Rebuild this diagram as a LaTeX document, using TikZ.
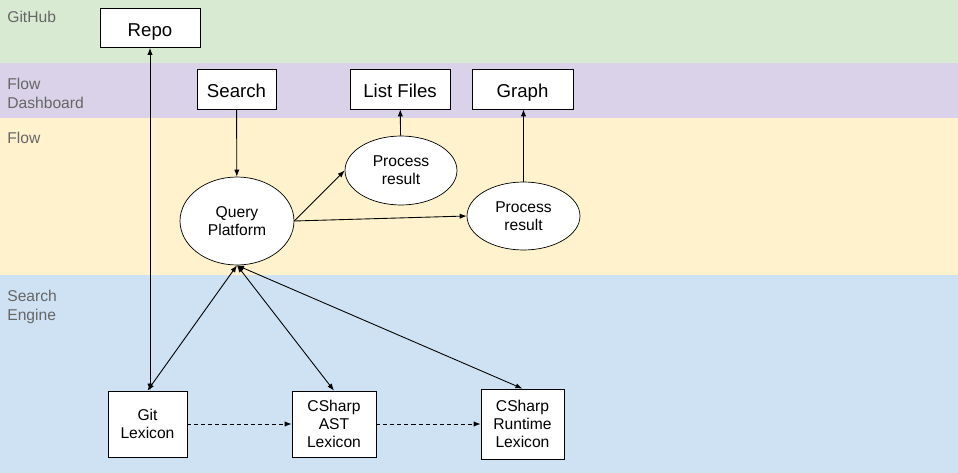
\documentclass[tikz,border=0pt]{standalone}
\usepackage{fontspec}
\setmainfont{Liberation Sans}
\usetikzlibrary{arrows.meta,shapes.geometric}
\definecolor{githubband}{HTML}{D9EAD3}
\definecolor{dashband}{HTML}{D9D2E9}
\definecolor{flowband}{HTML}{FFF2CC}
\definecolor{engineband}{HTML}{CFE2F3}
\definecolor{bandtext}{HTML}{666666}
\tikzset{
  topbox/.style={draw=black, fill=white, font=\fontsize{10.6}{12}\selectfont, inner sep=0pt, text height=9.4pt, text depth=0pt},
  lexbox/.style={draw=black, fill=white, font=\fontsize{8.9}{10.4}\selectfont, align=center, inner sep=0pt},
  oval/.style={draw=black, fill=white, ellipse, font=\fontsize{8.9}{10.4}\selectfont, align=center, inner sep=0pt},
  bandlabel/.style={anchor=north west, align=left, text=bandtext, font=\fontsize{8.9}{10.8}\selectfont, inner sep=0pt},
  link/.style={line width=0.5pt, -{Latex[length=4pt,width=3pt]}},
  twoway/.style={line width=0.5pt, {Latex[length=4pt,width=3pt]}-{Latex[length=4pt,width=3pt]}},
  feed/.style={line width=0.5pt, dash pattern=on 2.3pt off 1.7pt, -{Latex[length=4pt,width=3pt]}}
}

\begin{document}
\begin{tikzpicture}[x=0.02cm, y=-0.02cm]
			%%%%% BANDS %%%%%
			\fill[githubband] (0, 0) rectangle (958, 63);
			\fill[dashband] (0, 63) rectangle (958, 118);
			\fill[flowband] (0, 118) rectangle (958, 275);
			\fill[engineband] (0, 275) rectangle (958, 473);
			\useasboundingbox (0, 0) rectangle (958, 473);
			
			\node[bandlabel] (lblgithub) at (7, 11) {GitHub};
			\node[bandlabel] (lbldash) at (7, 78) {Flow\\Dashboard};
			\node[bandlabel] (lblflow) at (7, 132) {Flow};
			\node[bandlabel] (lblengine) at (7, 290) {Search\\Engine};
			
			%%%%% NODES %%%%%
			\node[topbox, minimum width=2cm, minimum height=0.78cm] (repo) at (150, 28) {Repo};
			\node[topbox, minimum width=1.58cm, minimum height=0.8cm] (search) at (236.5, 89) {Search};
			\node[topbox, minimum width=2cm, minimum height=0.8cm] (listfiles) at (400, 89) {List Files};
			\node[topbox, minimum width=2.02cm, minimum height=0.8cm] (graph) at (522.5, 89) {Graph};
			
			\node[oval, minimum width=2.28cm, minimum height=1.76cm] (query) at (237, 221) {Query\\Platform};
			\node[oval, minimum width=2.24cm, minimum height=1.38cm] (result1) at (401, 170.5) {Process\\result};
			\node[oval, minimum width=2.26cm, minimum height=1.36cm] (result2) at (523.5, 216) {Process\\result};
			
			\node[lexbox, minimum width=1.58cm, minimum height=1.32cm] (gitlex) at (147.5, 424) {Git\\Lexicon};
			\node[lexbox, minimum width=1.68cm, minimum height=1.32cm] (astlex) at (334, 424) {CSharp\\AST\\Lexicon};
			\node[lexbox, minimum width=1.66cm, minimum height=1.4cm] (runlex) at (522.5, 424) {CSharp\\Runtime\\Lexicon};
			
			%%%%% CONNECTORS %%%%%
			\draw[twoway] (repo.south) -- (repo.south |- gitlex.north);
			\draw[link] (search) -- (query);
			\draw[link] (result1) -- (listfiles);
			\draw[link] (result2.north) -- (graph.south -| result2.north);
			\draw[link] (query.east) -- (result1.west);
			\draw[link] (query.east) -- (result2.west);
			\draw[twoway] (query.south) -- (gitlex.north);
			\draw[twoway] (query.south) -- (astlex.north);
			\draw[twoway] (query.south) -- (runlex.north);
			\draw[feed] (gitlex) -- (astlex);
			\draw[feed] (astlex) -- (runlex);
			%%%%% END %%%%%
\end{tikzpicture}
\end{document}
